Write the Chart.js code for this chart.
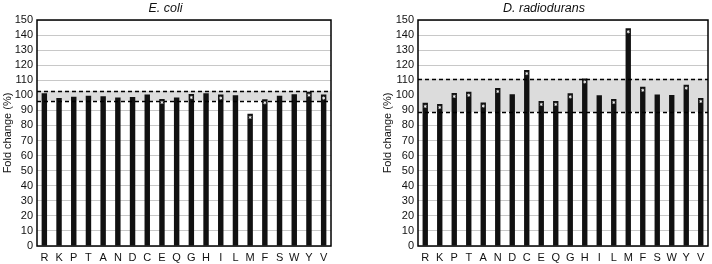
<!DOCTYPE html>
<html>
<head>
<meta charset="utf-8">
<script src="https://cdn.jsdelivr.net/npm/chart.js@4.4.0/dist/chart.umd.min.js"></script>
<style>
  body { margin: 0; background: #fff; }
  #left { position: absolute; left: 0; top: 0; }
  #right { position: absolute; left: 352px; top: 0; }
</style>
</head>
<body>
<canvas id="left" width="352" height="264"></canvas>
<canvas id="right" width="360" height="264"></canvas>
<script>
// amino acids on the x axis
const amino_acids = ["R", "K", "P", "T", "A", "N", "D", "C", "E", "Q", "G", "H", "I", "L", "M", "F", "S", "W", "Y", "V"];

// fold change (%)
const ecoli_values = [101.3, 98.3, 99.1, 99.8, 99.4, 98.5, 98.9, 100.5, 97.6, 98.5,
                      100.9, 101.3, 100.5, 100.0, 87.7, 97.4, 99.8, 100.7, 102.4, 100.5];
const radio_values = [95.0, 94.3, 101.6, 102.4, 95.2, 104.9, 100.7, 116.8, 96.3, 96.3,
                      101.3, 111.2, 100.0, 97.6, 144.5, 105.7, 100.5, 100.3, 107.1, 98.3];

// which bars carry the white asterisk
const ecoli_stars = ["E", "G", "I", "M", "F", "Y", "V"];
const radio_stars = ["R", "K", "P", "T", "A", "N", "C", "E", "Q", "G", "H", "L", "M", "F", "Y", "V"];

// dashed band limits
const ecoli_band = [96.5, 103];
const radio_band = [89, 111];

const y_ticks = [0, 10, 20, 30, 40, 50, 60, 70, 80, 90, 100, 110, 120, 130, 140, 150];

const font_family = "'Liberation Sans', Arial, sans-serif";

const decorations = {
    id: 'decorations',
    beforeDatasetsDraw(chart, args, opts) {
        const { ctx, chartArea: a, scales: { y } } = chart;
        const top = y.getPixelForValue(opts.band[1]);
        const bot = y.getPixelForValue(opts.band[0]);
        ctx.save();
        ctx.fillStyle = '#dcdcdc';
        ctx.fillRect(a.left, top, a.right - a.left, bot - top);
        ctx.restore();
    },
    afterDatasetsDraw(chart, args, opts) {
        const { ctx, chartArea: a, scales: { y } } = chart;
        ctx.save();

        // dashed limits
        ctx.strokeStyle = '#000';
        ctx.lineWidth = 1.5;
        ctx.setLineDash([4, 3]);
        for (const v of opts.band) {
            const py = Math.round(y.getPixelForValue(v)) + 0.5;
            ctx.beginPath();
            ctx.moveTo(a.left, py);
            ctx.lineTo(a.right, py);
            ctx.stroke();
        }
        ctx.setLineDash([]);

        // white asterisks near bar tops
        const meta = chart.getDatasetMeta(0);
        ctx.strokeStyle = '#fff';
        ctx.lineWidth = 0.8;
        meta.data.forEach((bar, i) => {
            if (!opts.stars.includes(chart.data.labels[i])) return;
            const cx = bar.x, cy = bar.y + 3.5, r = 1.6;
            ctx.beginPath();
            for (let k = 0; k < 3; k++) {
                const ang = Math.PI / 2 + k * Math.PI / 3;
                ctx.moveTo(cx - r * Math.cos(ang), cy - r * Math.sin(ang));
                ctx.lineTo(cx + r * Math.cos(ang), cy + r * Math.sin(ang));
            }
            ctx.stroke();
        });

        // plot frame
        ctx.strokeStyle = '#000';
        ctx.lineWidth = 1.5;
        ctx.strokeRect(a.left, a.top, a.right - a.left, a.bottom - a.top);
        ctx.restore();
    }
};

function makeChart(canvas_id, title, values, stars, band, pad) {
    const ctx = document.getElementById(canvas_id).getContext('2d');
    return new Chart(ctx, {
        type: 'bar',
        data: {
            labels: amino_acids,
            datasets: [{
                data: values,
                backgroundColor: '#111',
                borderWidth: 0,
                barPercentage: 0.37,
                categoryPercentage: 1
            }]
        },
        options: {
            responsive: false,
            animation: false,
            layout: {
                padding: { left: pad.left, right: pad.right, top: 0, bottom: 0 }
            },
            plugins: {
                legend: { display: false },
                tooltip: { enabled: false },
                title: {
                    display: true,
                    text: title,
                    color: '#111',
                    font: { family: font_family, size: 12.5, style: 'italic', weight: 'normal' },
                    padding: { top: 1, bottom: 4 }
                },
                decorations: { band: band, stars: stars }
            },
            scales: {
                x: {
                    grid: { display: false, drawTicks: false },
                    border: { display: false },
                    ticks: {
                        color: '#111',
                        padding: 5,
                        maxRotation: 0,
                        autoSkip: false,
                        font: { family: font_family, size: 11 }
                    },
                    afterFit: (s) => { s.height = 18; }
                },
                y: {
                    min: 0,
                    max: 150,
                    afterBuildTicks: (s) => { s.ticks = y_ticks.map(v => ({ value: v })); },
                    grid: { color: '#c8c8c8', lineWidth: 1, drawTicks: false },
                    border: { display: false },
                    ticks: {
                        color: '#111',
                        padding: 4,
                        autoSkip: false,
                        font: { family: font_family, size: 11 }
                    },
                    title: {
                        display: true,
                        text: 'Fold change (%)',
                        color: '#111',
                        font: { family: font_family, size: 11 },
                        padding: { top: 1, bottom: 0 }
                    },
                    afterFit: (s) => { s.width = pad.yWidth; }
                }
            }
        },
        plugins: [decorations]
    });
}

makeChart('left', 'E. coli', ecoli_values, ecoli_stars, ecoli_band, { left: 0, right: 21, yWidth: 37 });
makeChart('right', 'D. radiodurans', radio_values, radio_stars, radio_band, { left: 28, right: 4, yWidth: 38 });
</script>
</body>
</html>
